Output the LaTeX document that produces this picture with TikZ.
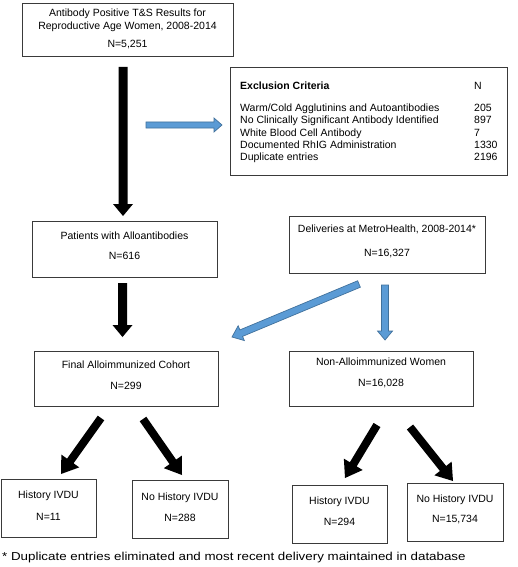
\documentclass[tikz,border=0pt]{standalone}
\usepackage{fontspec}
\usepackage{graphicx}
\setmainfont{Liberation Sans}
\usetikzlibrary{calc,fit}
\definecolor{bfill}{HTML}{5B9BD5}
\definecolor{bline}{HTML}{41719C}
\definecolor{frame}{HTML}{3A3A3A}
\newcommand\blockarr[6]{%
  \coordinate (hb) at ($(#3)!#6!(#2)$);
  \path[#1] ($(#2)!#4!90:(#3)$) -- ($(hb)!#4!90:(#3)$) -- ($(hb)!#5!90:(#3)$) -- (#3)
    -- ($(hb)!#5!-90:(#3)$) -- ($(hb)!#4!-90:(#3)$) -- ($(#2)!#4!-90:(#3)$) -- cycle;}
\tikzset{
  box/.style={draw=frame, line width=0.8pt, fill=white, inner sep=0pt, rectangle},
  txt/.style={inner sep=0pt, font=\fontsize{10.5}{12.6}\selectfont, anchor=base},
  txtl/.style={inner sep=0pt, font=\fontsize{10.5}{12.6}\selectfont, anchor=base west},
  blackarr/.style={fill=black},
  bluearr/.style={fill=bfill, draw=bline, line width=0.7pt, line join=miter},
}
\begin{document}
\begin{tikzpicture}[x=1pt,y=-1pt]
\useasboundingbox[fill=white] (0,0) rectangle (518,567);
% boxes
\node[box, fit={(22,3) (233,56)}] (top) {};
\node[box, fit={(230,67) (507,175)}] (excl) {};
\node[box, fit={(32,221) (217,277)}] (pat) {};
\node[box, fit={(289,216) (485,273)}] (del) {};
\node[box, fit={(34,351) (218,406)}] (fin) {};
\node[box, fit={(289,351) (473,406)}] (non) {};
\node[box, fit={(1,479) (96,537)}] (lh) {};
\node[box, fit={(132,480) (228,538)}] (lnh) {};
\node[box, fit={(292,485) (387,543)}] (rh) {};
\node[box, fit={(407,483) (503,541)}] (rnh) {};
% texts
\node[txt] (top1) at (127.5,16.3) {Antibody Positive T\&S Results for};
\node[txt] (top2) at (127.5,29.3) {Reproductive Age Women, 2008-2014};
\node[txt] (top3) at (127.5,47.3) {N=5,251};
\node[txtl] (exh) at (240,90) {\bfseries Exclusion Criteria};
\node[txtl] (exn) at (474,90) {N};
\node[txtl] (ex1) at (240,112) {Warm/Cold Agglutinins and Autoantibodies};
\node[txtl] (ex2) at (240,124) {No Clinically Significant Antibody Identified};
\node[txtl] (ex3) at (240,136) {White Blood Cell Antibody};
\node[txtl] (ex4) at (240,148) {Documented RhIG Administration};
\node[txtl] (ex5) at (240,160) {Duplicate entries};
\node[txtl] (en1) at (474,112) {205};
\node[txtl] (en2) at (474,124) {897};
\node[txtl] (en3) at (474,136) {7};
\node[txtl] (en4) at (474,148) {1330};
\node[txtl] (en5) at (474,160) {2196};
\node[txt] (pat1) at (124.5,239) {Patients with Alloantibodies};
\node[txt] (pat2) at (124.5,259) {N=616};
\node[txt] (del1) at (387,232) {Deliveries at MetroHealth, 2008-2014*};
\node[txt] (del2) at (387,256) {N=16,327};
\node[txt] (fin1) at (126,368) {Final Alloimmunized Cohort};
\node[txt] (fin2) at (126,389) {N=299};
\node[txt] (non1) at (381,365) {Non-Alloimmunized Women};
\node[txt] (non2) at (381,386) {N=16,028};
\node[txt] (lh1) at (48.5,498) {History IVDU};
\node[txt] (lh2) at (48.5,520) {N=11};
\node[txt] (lnh1) at (180,500) {No History IVDU};
\node[txt] (lnh2) at (180,521) {N=288};
\node[txt] (rh1) at (339.5,504) {History IVDU};
\node[txt] (rh2) at (339.5,525) {N=294};
\node[txt] (rnh1) at (455,502) {No History IVDU};
\node[txt] (rnh2) at (455,522) {N=15,734};
\node[inner sep=0pt, font=\fontsize{11.5}{14}\selectfont, anchor=base west] (foot) at (2,560.5) {\scalebox{1.16}[1]{* Duplicate entries eliminated and most recent delivery maintained in database}};
% arrow end points
\coordinate (a1s) at (123,67);   \coordinate (a1e) at (123,216);
\coordinate (a2s) at (122.5,283); \coordinate (a2e) at (122.5,337);
\coordinate (b1s) at (146,125);  \coordinate (b1e) at (222,125);
\coordinate (b2s) at (359,284);  \coordinate (b2e) at (232,337);
\coordinate (b3s) at (385,285);  \coordinate (b3e) at (385,340);
\coordinate (c1s) at (101,418);  \coordinate (c1e) at (61,474);
\coordinate (c2s) at (143,419);  \coordinate (c2e) at (182,475);
\coordinate (c3s) at (377,425);  \coordinate (c3e) at (345,478);
\coordinate (c4s) at (410,427);  \coordinate (c4e) at (453,481);
% arrows
\blockarr{blackarr}{a1s}{a1e}{4.5pt}{10pt}{12pt}
\blockarr{blackarr}{a2s}{a2e}{4.5pt}{10pt}{12pt}
\blockarr{bluearr}{b1s}{b1e}{3pt}{7pt}{8pt}
\blockarr{bluearr}{b2s}{b2e}{3.5pt}{8pt}{10pt}
\blockarr{bluearr}{b3s}{b3e}{3.5pt}{7.5pt}{9pt}
\blockarr{blackarr}{c1s}{c1e}{4pt}{11pt}{16pt}
\blockarr{blackarr}{c2s}{c2e}{4pt}{11pt}{16pt}
\blockarr{blackarr}{c3s}{c3e}{4pt}{11pt}{16pt}
\blockarr{blackarr}{c4s}{c4e}{4pt}{11pt}{16pt}
\end{tikzpicture}
\end{document}
